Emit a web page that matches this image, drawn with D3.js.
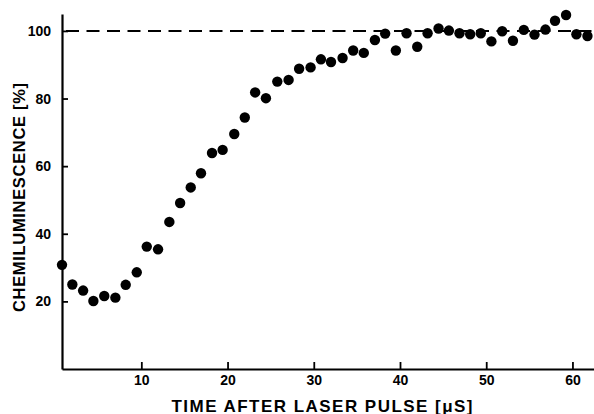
<!DOCTYPE html>
<html>
<head>
<meta charset="utf-8">
<script src="https://cdn.jsdelivr.net/npm/d3@7"></script>
<style>
  body { margin: 0; background: #fff; }
  text { font-family: "Liberation Sans", Arial, sans-serif; fill: #000; }
</style>
</head>
<body>
<script>
const width = 594;
const height = 414;

// time after laser pulse (µs)
const times = [0.8, 2.0, 3.25, 4.44, 5.7, 6.99, 8.19, 9.47, 10.63, 11.94, 13.25, 14.5,
    15.73, 16.92, 18.2, 19.43, 20.78, 22.0, 23.2, 24.45, 25.77, 27.08, 28.3,
    29.63, 30.83, 32.0, 33.34, 34.57, 35.8, 37.09, 38.28, 39.52, 40.76, 42.0,
    43.2, 44.47, 45.67, 46.9, 48.14, 49.37, 50.6, 51.85, 53.1, 54.36, 55.6,
    56.87, 57.98, 59.26, 60.46, 61.74];

// chemiluminescence (%)
const values = [30.8, 25.0, 23.2, 20.1, 21.6, 21.1, 24.9, 28.6, 36.2, 35.4, 43.5, 49.1,
    53.7, 57.9, 63.9, 64.8, 69.5, 74.4, 81.8, 80.1, 85.0, 85.5, 88.8,
    89.2, 91.6, 90.8, 92.0, 94.2, 93.5, 97.3, 99.2, 94.2, 99.3, 95.3,
    99.3, 100.7, 100.1, 99.3, 99.0, 99.3, 96.9, 99.9, 97.1, 100.3, 98.9,
    100.4, 103.0, 104.7, 99.0, 98.5];

const xTicks = [10, 20, 30, 40, 50, 60];
const yTicks = [20, 40, 60, 80, 100];
const reference = 100;

const points = times.map((t, i) => ({ t, v: values[i] }));

const svg = d3.select('body')
    .append('svg')
    .attr('width', width)
    .attr('height', height);

const x = d3.scaleLinear().domain([0.8, 62.5]).range([62, 594]);
const y = d3.scaleLinear().domain([0, 105]).range([369, 14]);

// reference line at 100 %
svg.append('line')
    .attr('x1', x(0.8))
    .attr('x2', x(62.5))
    .attr('y1', y(reference))
    .attr('y2', y(reference))
    .attr('stroke', '#000')
    .attr('stroke-width', 2)
    .attr('stroke-dasharray', '13,7.5')
    .attr('stroke-dashoffset', -4);

// both axes have their ticks pointing into the plot
const xAxis = svg.append('g')
    .attr('transform', `translate(0,${y(0)})`)
    .call(d3.axisBottom(x).tickValues(xTicks).tickSizeInner(-7).tickSizeOuter(0).tickPadding(6));

const yAxis = svg.append('g')
    .attr('transform', `translate(${x(0.8)},0)`)
    .call(d3.axisLeft(y).tickValues(yTicks).tickSizeInner(-6).tickSizeOuter(0).tickPadding(11));

[xAxis, yAxis].forEach((g) => {
    g.select('.domain').attr('stroke-width', 2.2);
    g.selectAll('.tick line').attr('stroke-width', 1.8);
    g.selectAll('.tick text')
        .attr('font-size', 14)
        .attr('font-weight', 'bold')
        .attr('font-family', '"Liberation Sans", Arial, sans-serif');
});

svg.selectAll('circle')
    .data(points)
    .join('circle')
    .attr('cx', (d) => x(d.t))
    .attr('cy', (d) => y(d.v))
    .attr('r', 5.2)
    .attr('fill', '#000');

svg.append('text')
    .attr('x', 322)
    .attr('y', 411.5)
    .attr('text-anchor', 'middle')
    .attr('font-size', 17)
    .attr('font-weight', 'bold')
    .attr('textLength', 301)
    .attr('lengthAdjust', 'spacing')
    .text('TIME AFTER LASER PULSE [\u03bcS]');

svg.append('text')
    .attr('transform', 'translate(25,197.5) rotate(-90)')
    .attr('text-anchor', 'middle')
    .attr('font-size', 16.5)
    .attr('font-weight', 'bold')
    .attr('textLength', 229)
    .attr('lengthAdjust', 'spacing')
    .text('CHEMILUMINESCENCE [%]');
</script>
</body>
</html>
